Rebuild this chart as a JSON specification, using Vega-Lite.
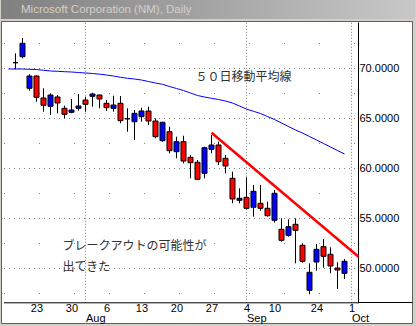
{
  "$schema": "https://vega.github.io/schema/vega-lite/v6.json",
  "background": "#d4d0c8",
  "padding": {"left": 0, "top": 0, "right": 2, "bottom": 3},
  "spacing": 2,
  "bounds": "flush",
  "config": {"font": "Liberation Sans", "view": {"stroke": null}},
  "datasets": {
    "candles": [
      {"date": "2001-07-18", "open": 70.56, "high": 71.5, "low": 69.9, "close": 70.56},
      {"date": "2001-07-19", "open": 71.16, "high": 73.03, "low": 71.0, "close": 72.5},
      {"date": "2001-07-20", "open": 68.0, "high": 69.4, "low": 67.76, "close": 69.23},
      {"date": "2001-07-23", "open": 69.23, "high": 69.3, "low": 66.66, "close": 67.1},
      {"date": "2001-07-24", "open": 67.03, "high": 68.0, "low": 65.66, "close": 66.3},
      {"date": "2001-07-25", "open": 66.2, "high": 67.5, "low": 65.33, "close": 67.33},
      {"date": "2001-07-26", "open": 67.13, "high": 67.33, "low": 65.5, "close": 66.53},
      {"date": "2001-07-27", "open": 66.0, "high": 66.26, "low": 65.0, "close": 65.4},
      {"date": "2001-07-30", "open": 65.6, "high": 66.93, "low": 65.5, "close": 65.83},
      {"date": "2001-07-31", "open": 66.0, "high": 67.43, "low": 65.76, "close": 66.23},
      {"date": "2001-08-01", "open": 66.83, "high": 67.16, "low": 65.66, "close": 66.4},
      {"date": "2001-08-02", "open": 67.2, "high": 67.56, "low": 66.16, "close": 67.43},
      {"date": "2001-08-03", "open": 67.33, "high": 67.35, "low": 66.0, "close": 66.93},
      {"date": "2001-08-06", "open": 66.5, "high": 66.83, "low": 65.73, "close": 66.06},
      {"date": "2001-08-07", "open": 66.0, "high": 67.26, "low": 65.66, "close": 66.33},
      {"date": "2001-08-08", "open": 66.5, "high": 67.23, "low": 64.5, "close": 64.76},
      {"date": "2001-08-09", "open": 64.95, "high": 66.0, "low": 63.66, "close": 64.95},
      {"date": "2001-08-10", "open": 64.66, "high": 65.83, "low": 62.83, "close": 65.5},
      {"date": "2001-08-13", "open": 65.16, "high": 66.06, "low": 64.66, "close": 65.73},
      {"date": "2001-08-14", "open": 65.73, "high": 66.16, "low": 64.33, "close": 64.73},
      {"date": "2001-08-15", "open": 64.73, "high": 65.0, "low": 63.0, "close": 63.16},
      {"date": "2001-08-16", "open": 62.76, "high": 64.66, "low": 62.66, "close": 64.6},
      {"date": "2001-08-17", "open": 63.66, "high": 64.16, "low": 61.5, "close": 61.76},
      {"date": "2001-08-20", "open": 61.66, "high": 63.16, "low": 61.0, "close": 62.66},
      {"date": "2001-08-21", "open": 62.66, "high": 63.26, "low": 60.5, "close": 60.73},
      {"date": "2001-08-22", "open": 61.1, "high": 61.33, "low": 59.0, "close": 60.56},
      {"date": "2001-08-23", "open": 60.6, "high": 60.83, "low": 58.83, "close": 58.9},
      {"date": "2001-08-24", "open": 59.5, "high": 62.16, "low": 59.0, "close": 62.06},
      {"date": "2001-08-27", "open": 61.9, "high": 63.33, "low": 61.5, "close": 62.33},
      {"date": "2001-08-28", "open": 62.33, "high": 62.66, "low": 60.33, "close": 60.66},
      {"date": "2001-08-29", "open": 61.0, "high": 61.33, "low": 59.5, "close": 60.23},
      {"date": "2001-08-30", "open": 59.0, "high": 59.66, "low": 56.5, "close": 56.93},
      {"date": "2001-08-31", "open": 56.8, "high": 58.0, "low": 56.5, "close": 57.0},
      {"date": "2001-09-04", "open": 57.1, "high": 59.1, "low": 55.9, "close": 56.0},
      {"date": "2001-09-05", "open": 56.1, "high": 58.33, "low": 55.16, "close": 57.7},
      {"date": "2001-09-06", "open": 56.5, "high": 58.33, "low": 55.76, "close": 56.0},
      {"date": "2001-09-07", "open": 56.0, "high": 56.66, "low": 55.16, "close": 55.26},
      {"date": "2001-09-10", "open": 54.8, "high": 57.83, "low": 54.56, "close": 57.5},
      {"date": "2001-09-17", "open": 53.9, "high": 55.0, "low": 52.66, "close": 52.8},
      {"date": "2001-09-18", "open": 53.3, "high": 54.9, "low": 53.16, "close": 54.16},
      {"date": "2001-09-19", "open": 54.4, "high": 55.0, "low": 50.5, "close": 53.8},
      {"date": "2001-09-20", "open": 52.3, "high": 52.5, "low": 50.56, "close": 50.7},
      {"date": "2001-09-21", "open": 47.8, "high": 50.5, "low": 47.4, "close": 49.6},
      {"date": "2001-09-24", "open": 50.63, "high": 52.43, "low": 49.76, "close": 51.9},
      {"date": "2001-09-25", "open": 52.16, "high": 52.93, "low": 50.06, "close": 51.2},
      {"date": "2001-09-26", "open": 51.4, "high": 52.1, "low": 49.5, "close": 50.23},
      {"date": "2001-09-27", "open": 50.03, "high": 50.6, "low": 47.93, "close": 49.83},
      {"date": "2001-09-28", "open": 49.5, "high": 50.93, "low": 48.93, "close": 50.7}
    ],
    "ma": [
      {"date": "2001-07-17", "ma": 69.93}, {"date": "2001-07-18", "ma": 69.93},
      {"date": "2001-07-19", "ma": 69.93}, {"date": "2001-07-20", "ma": 69.9},
      {"date": "2001-07-23", "ma": 69.88}, {"date": "2001-07-24", "ma": 69.8},
      {"date": "2001-07-25", "ma": 69.73}, {"date": "2001-07-26", "ma": 69.7},
      {"date": "2001-07-27", "ma": 69.66}, {"date": "2001-07-30", "ma": 69.63},
      {"date": "2001-07-31", "ma": 69.58}, {"date": "2001-08-01", "ma": 69.53},
      {"date": "2001-08-02", "ma": 69.48}, {"date": "2001-08-03", "ma": 69.41},
      {"date": "2001-08-06", "ma": 69.33}, {"date": "2001-08-07", "ma": 69.23},
      {"date": "2001-08-08", "ma": 69.1}, {"date": "2001-08-09", "ma": 69.0},
      {"date": "2001-08-10", "ma": 68.93}, {"date": "2001-08-13", "ma": 68.83},
      {"date": "2001-08-14", "ma": 68.68}, {"date": "2001-08-15", "ma": 68.53},
      {"date": "2001-08-16", "ma": 68.4}, {"date": "2001-08-17", "ma": 68.18},
      {"date": "2001-08-20", "ma": 67.98}, {"date": "2001-08-21", "ma": 67.78},
      {"date": "2001-08-22", "ma": 67.53}, {"date": "2001-08-23", "ma": 67.28},
      {"date": "2001-08-24", "ma": 67.13}, {"date": "2001-08-27", "ma": 67.0},
      {"date": "2001-08-28", "ma": 66.88}, {"date": "2001-08-29", "ma": 66.73},
      {"date": "2001-08-30", "ma": 66.53}, {"date": "2001-08-31", "ma": 66.23},
      {"date": "2001-09-04", "ma": 65.93}, {"date": "2001-09-05", "ma": 65.7},
      {"date": "2001-09-06", "ma": 65.48}, {"date": "2001-09-07", "ma": 65.18},
      {"date": "2001-09-10", "ma": 64.88}, {"date": "2001-09-17", "ma": 64.53},
      {"date": "2001-09-18", "ma": 64.18}, {"date": "2001-09-19", "ma": 63.83},
      {"date": "2001-09-20", "ma": 63.53}, {"date": "2001-09-21", "ma": 63.18},
      {"date": "2001-09-24", "ma": 62.83}, {"date": "2001-09-25", "ma": 62.48},
      {"date": "2001-09-26", "ma": 62.13}, {"date": "2001-09-27", "ma": 61.78},
      {"date": "2001-09-28", "ma": 61.43}
    ],
    "trend": [
      {"date": "2001-08-27", "price": 63.56},
      {"date": "2001-10-02", "price": 51.16}
    ],
    "notes": [
      {"date": "2001-08-23", "price": 69.1, "label": "５０日移動平均線"},
      {"date": "2001-07-27", "price": 52.26, "label": "ブレークアウトの可能性が"},
      {"date": "2001-07-27", "price": 50.1, "label": "出てきた"}
    ]
  },
  "vconcat": [
    {
      "width": 414,
      "height": 19,
      "data": {"values": [{"caption": "Microsoft Corporation (NM), Daily"}]},
      "layer": [
        {
          "mark": {
            "type": "rect",
            "color": {"x1": 0, "y1": 0, "x2": 1, "y2": 0, "gradient": "linear",
              "stops": [{"offset": 0, "color": "#808080"}, {"offset": 1, "color": "#c8c8c8"}]}
          }
        },
        {
          "mark": {"type": "text", "align": "left", "baseline": "middle",
            "color": "#d4d0c8", "font": "Liberation Sans", "fontSize": 11.5},
          "encoding": {
            "x": {"field": "caption", "type": "nominal", "axis": null,
              "scale": {"type": "point", "padding": 0, "align": 0.0483}},
            "text": {"field": "caption"}
          }
        }
      ]
    },
    {
      "width": 411,
      "height": 302,
      "view": {"fill": "white", "stroke": "#606060"},
      "resolve": {"axis": {"x": "independent", "y": "independent"}},
      "encoding": {
        "x": {
          "field": "date", "type": "ordinal", "axis": null,
          "scale": {"type": "point", "range": [2.5, 357.5], "padding": 0.357, "align": 1,
            "domain": ["2001-07-17","2001-07-18","2001-07-19","2001-07-20","2001-07-23","2001-07-24","2001-07-25","2001-07-26","2001-07-27","2001-07-30","2001-07-31","2001-08-01","2001-08-02","2001-08-03","2001-08-06","2001-08-07","2001-08-08","2001-08-09","2001-08-10","2001-08-13","2001-08-14","2001-08-15","2001-08-16","2001-08-17","2001-08-20","2001-08-21","2001-08-22","2001-08-23","2001-08-24","2001-08-27","2001-08-28","2001-08-29","2001-08-30","2001-08-31","2001-09-04","2001-09-05","2001-09-06","2001-09-07","2001-09-10","2001-09-17","2001-09-18","2001-09-19","2001-09-20","2001-09-21","2001-09-24","2001-09-25","2001-09-26","2001-09-27","2001-09-28","2001-10-01","2001-10-02"]}
        }
      },
      "layer": [
        {
          "data": {"name": "candles"},
          "mark": {"type": "rule", "color": "black", "strokeWidth": 1},
          "encoding": {
            "x": {
              "field": "date", "type": "ordinal",
              "scale": {"type": "point", "range": [2.5, 357.5], "padding": 0.357, "align": 1,
                "domain": ["2001-07-17","2001-07-18","2001-07-19","2001-07-20","2001-07-23","2001-07-24","2001-07-25","2001-07-26","2001-07-27","2001-07-30","2001-07-31","2001-08-01","2001-08-02","2001-08-03","2001-08-06","2001-08-07","2001-08-08","2001-08-09","2001-08-10","2001-08-13","2001-08-14","2001-08-15","2001-08-16","2001-08-17","2001-08-20","2001-08-21","2001-08-22","2001-08-23","2001-08-24","2001-08-27","2001-08-28","2001-08-29","2001-08-30","2001-08-31","2001-09-04","2001-09-05","2001-09-06","2001-09-07","2001-09-10","2001-09-17","2001-09-18","2001-09-19","2001-09-20","2001-09-21","2001-09-24","2001-09-25","2001-09-26","2001-09-27","2001-09-28","2001-10-01","2001-10-02"]},
              "axis": {
                "orient": "bottom", "offset": -20.7, "title": null,
                "values": ["2001-07-23","2001-07-30","2001-08-06","2001-08-13","2001-08-20","2001-08-27","2001-09-04","2001-09-10","2001-09-24","2001-10-01"],
                "labelExpr": "toNumber(substring(datum.value, 8, 10))",
                "labelAngle": 0, "labelFont": "Liberation Sans", "labelFontSize": 11,
                "labelColor": "black", "labelPadding": 0.5, "labelOverlap": false,
                "domain": true, "domainColor": "black", "ticks": false, "grid": false
              }
            },
            "y": {
              "field": "low", "type": "quantitative",
              "scale": {"domain": [46.6, 74.63], "range": [281.3, 1], "nice": false, "zero": false},
              "axis": {
                "orient": "right", "offset": -54, "title": null,
                "values": [46.6, 47.5, 50, 52.5, 55, 57.5, 60, 62.5, 65, 67.5, 70, 72.5],
                "labelExpr": "datum.value % 5 === 0 ? format(datum.value, '.4f') : ''",
                "labelFont": "Liberation Sans", "labelFontSize": 11, "labelColor": "black",
                "labelPadding": 1, "labelOverlap": false,
                "domain": true, "domainColor": "black",
                "ticks": true, "tickColor": "black",
                "tickSize": {"condition": {"test": "datum.value < 47", "value": 54}, "value": 0},
                "grid": false
              }
            },
            "y2": {"field": "high"}
          }
        },
        {
          "data": {"name": "candles"},
          "mark": {"type": "bar", "size": 5, "stroke": "black", "strokeWidth": 1},
          "encoding": {
            "y": {"field": "open", "type": "quantitative", "axis": null,
              "scale": {"domain": [46.6, 74.63], "range": [281.3, 1], "nice": false, "zero": false}},
            "y2": {"field": "close"},
            "fill": {"condition": {"test": "datum.close > datum.open", "value": "#0000ff"}, "value": "#ff0000"}
          }
        },
        {
          "data": {"name": "ma"},
          "mark": {"type": "line", "color": "#0000ff", "strokeWidth": 1},
          "encoding": {
            "x": {
              "field": "date", "type": "ordinal",
              "scale": {"type": "point", "range": [2.5, 357.5], "padding": 0.357, "align": 1,
                "domain": ["2001-07-17","2001-07-18","2001-07-19","2001-07-20","2001-07-23","2001-07-24","2001-07-25","2001-07-26","2001-07-27","2001-07-30","2001-07-31","2001-08-01","2001-08-02","2001-08-03","2001-08-06","2001-08-07","2001-08-08","2001-08-09","2001-08-10","2001-08-13","2001-08-14","2001-08-15","2001-08-16","2001-08-17","2001-08-20","2001-08-21","2001-08-22","2001-08-23","2001-08-24","2001-08-27","2001-08-28","2001-08-29","2001-08-30","2001-08-31","2001-09-04","2001-09-05","2001-09-06","2001-09-07","2001-09-10","2001-09-17","2001-09-18","2001-09-19","2001-09-20","2001-09-21","2001-09-24","2001-09-25","2001-09-26","2001-09-27","2001-09-28","2001-10-01","2001-10-02"]},
              "axis": {
                "orient": "bottom", "offset": -20.7, "title": null,
                "values": ["2001-08-01", "2001-09-04", "2001-10-01"],
                "labelExpr": "substring(datum.value, 5, 7) == '08' ? 'Aug' : (substring(datum.value, 5, 7) == '09' ? 'Sep' : 'Oct')",
                "labelAlign": "left", "labelAngle": 0, "labelFont": "Liberation Sans",
                "labelFontSize": 11, "labelColor": "black", "labelPadding": 10.5,
                "labelOverlap": false, "domain": false, "ticks": false, "grid": false
              }
            },
            "y": {"field": "ma", "type": "quantitative", "axis": null,
              "scale": {"domain": [46.6, 74.63], "range": [281.3, 1], "nice": false, "zero": false}}
          }
        },
        {
          "data": {"name": "trend"},
          "mark": {"type": "line", "color": "#ff0000", "strokeWidth": 2.5},
          "encoding": {
            "x": {
              "field": "date", "type": "ordinal",
              "scale": {"type": "point", "range": [2.5, 357.5], "padding": 0.357, "align": 1,
                "domain": ["2001-07-17","2001-07-18","2001-07-19","2001-07-20","2001-07-23","2001-07-24","2001-07-25","2001-07-26","2001-07-27","2001-07-30","2001-07-31","2001-08-01","2001-08-02","2001-08-03","2001-08-06","2001-08-07","2001-08-08","2001-08-09","2001-08-10","2001-08-13","2001-08-14","2001-08-15","2001-08-16","2001-08-17","2001-08-20","2001-08-21","2001-08-22","2001-08-23","2001-08-24","2001-08-27","2001-08-28","2001-08-29","2001-08-30","2001-08-31","2001-09-04","2001-09-05","2001-09-06","2001-09-07","2001-09-10","2001-09-17","2001-09-18","2001-09-19","2001-09-20","2001-09-21","2001-09-24","2001-09-25","2001-09-26","2001-09-27","2001-09-28","2001-10-01","2001-10-02"]},
              "axis": {
                "orient": "top", "title": null,
                "values": ["2001-08-01", "2001-09-04", "2001-10-01"],
                "labels": false, "domain": false, "ticks": false,
                "grid": true, "gridColor": "#808080", "gridDash": [1, 2]
              }
            },
            "y": {"field": "price", "type": "quantitative",
              "scale": {"domain": [46.6, 74.63], "range": [281.3, 1], "nice": false, "zero": false},
              "axis": {
                "orient": "left", "title": null,
                "values": [47.5, 50, 52.5, 55, 57.5, 60, 62.5, 65, 67.5, 70, 72.5],
                "labels": false, "domain": false, "ticks": false,
                "grid": true, "gridColor": "#808080",
                "gridDash": {"condition": {"test": "datum.value % 5 === 0", "value": [1, 4]}, "value": [1, 34]}
              }
            }
          }
        },
        {
          "data": {"name": "notes"},
          "mark": {"type": "text", "align": "left", "baseline": "middle", "dx": -2,
            "font": "Noto Sans CJK JP", "fontSize": 12, "color": "#303030"},
          "encoding": {
            "y": {"field": "price", "type": "quantitative", "axis": null,
              "scale": {"domain": [46.6, 74.63], "range": [281.3, 1], "nice": false, "zero": false}},
            "text": {"field": "label"}
          }
        }
      ]
    }
  ]
}
